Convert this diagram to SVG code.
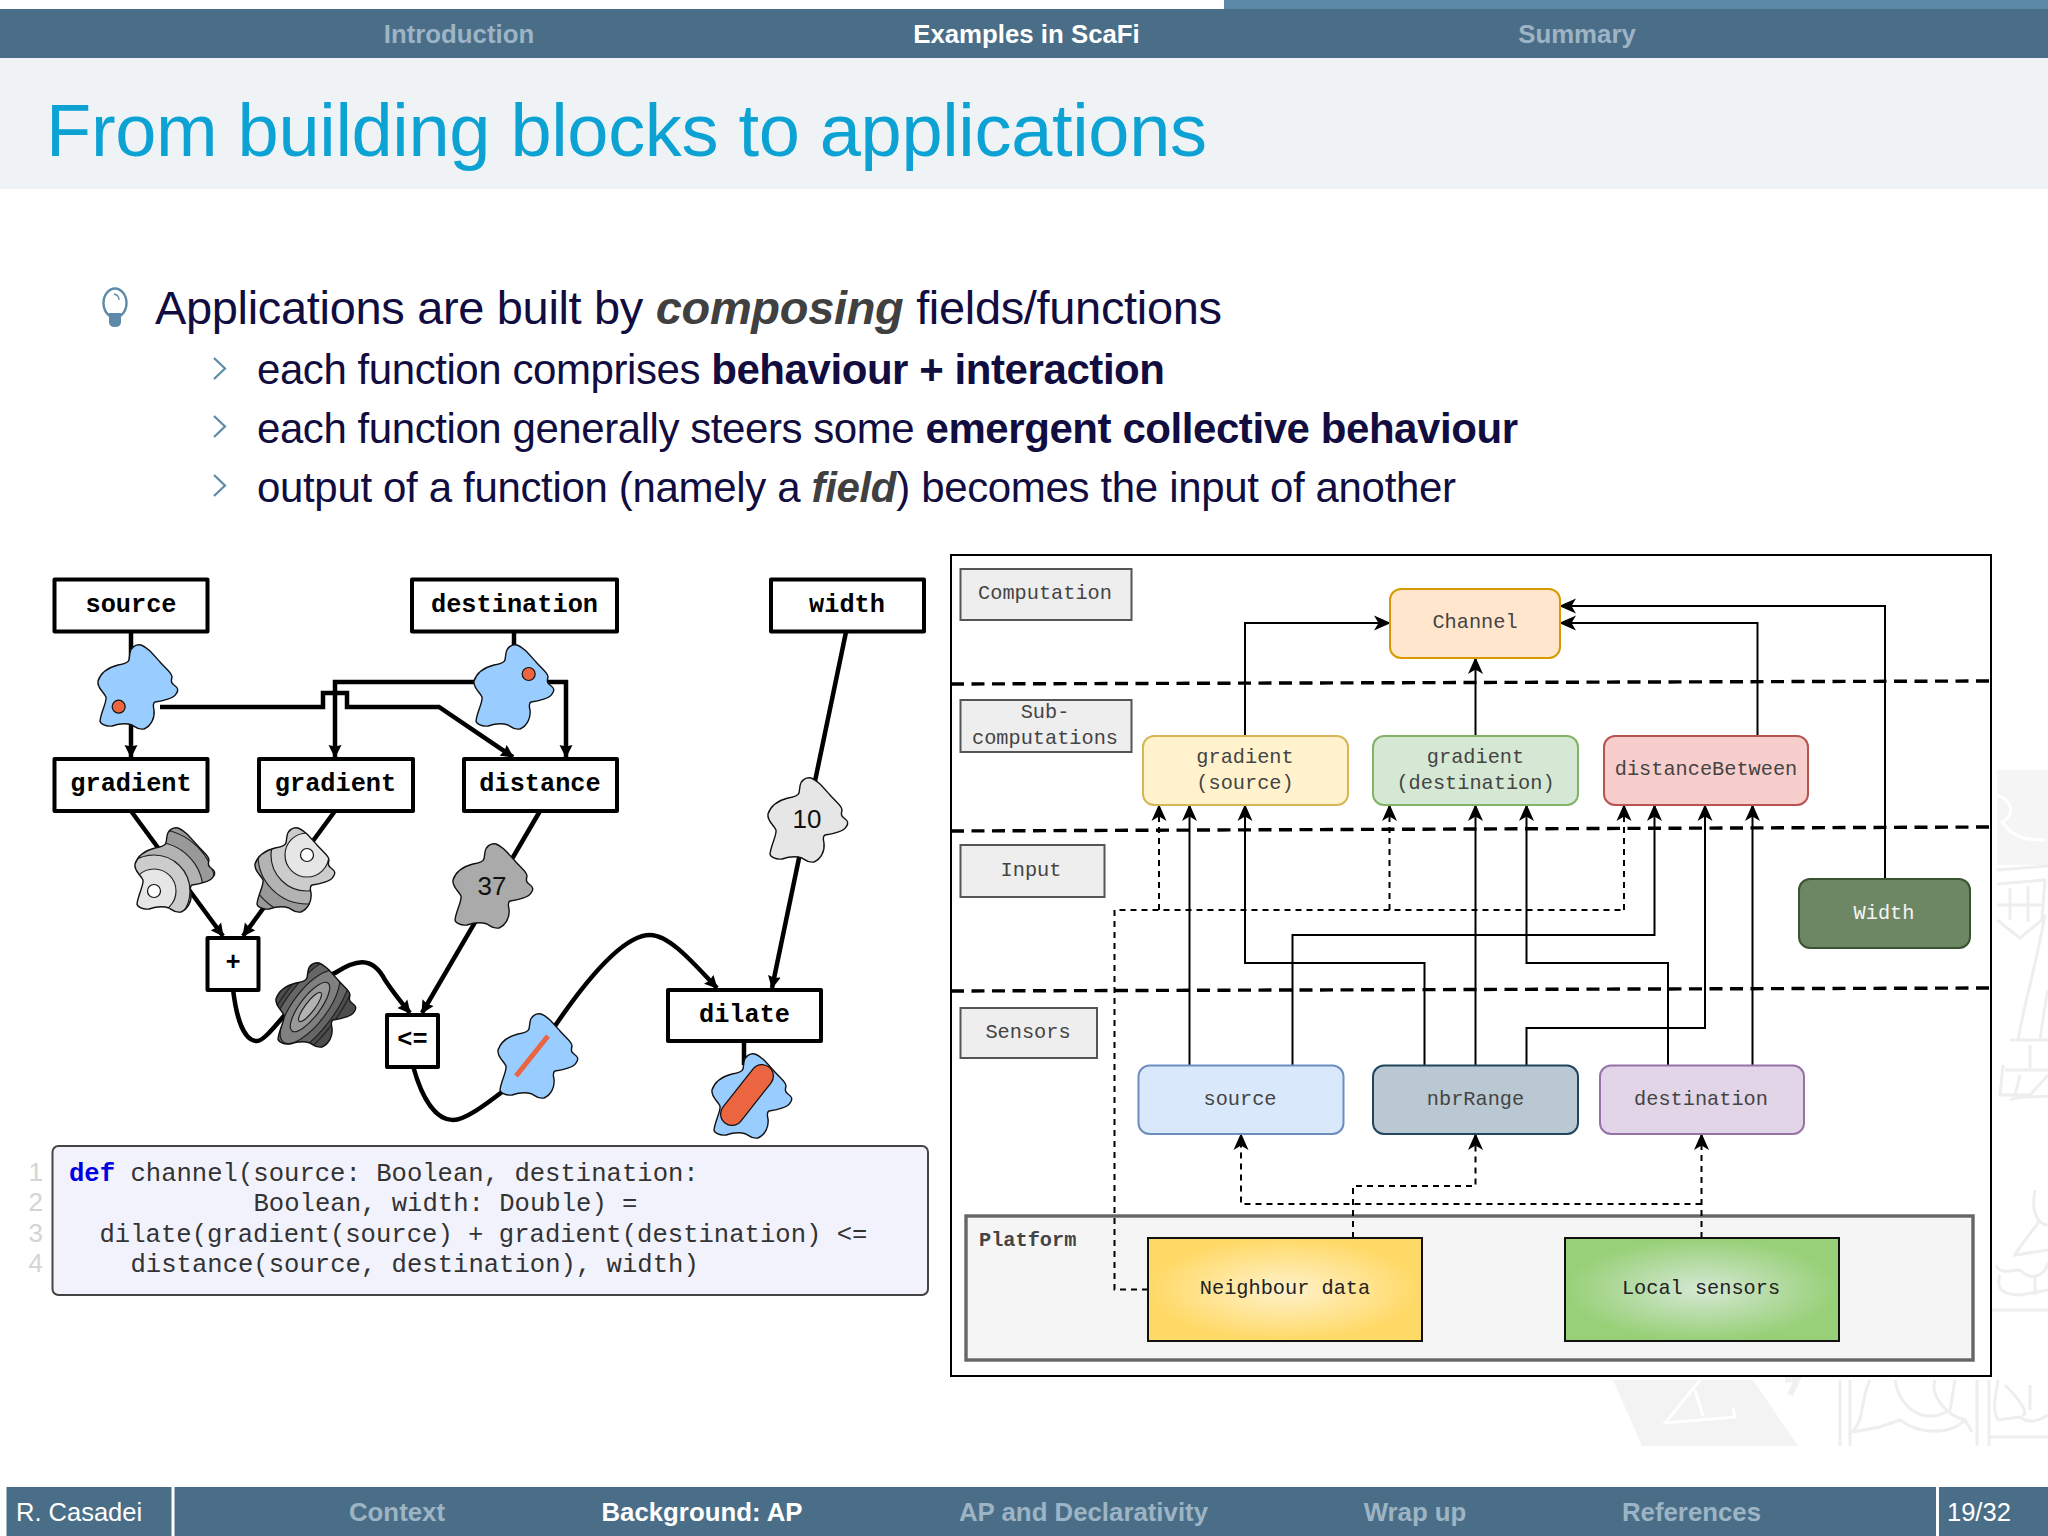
<svg xmlns="http://www.w3.org/2000/svg" xmlns:xlink="http://www.w3.org/1999/xlink" width="2048" height="1536" viewBox="0 0 2048 1536">
<style>
.sans{font-family:"Liberation Sans",Arial,sans-serif}
.nav{font-family:"Liberation Sans",Arial,sans-serif;font-size:25.8px;font-weight:700;fill:#9db4c5;text-anchor:middle}
.nav.on{fill:#ffffff}
.foot{font-family:"Liberation Sans",Arial,sans-serif;font-size:25.5px;fill:#ffffff}
.body1{font-family:"Liberation Sans",Arial,sans-serif;font-size:47px;fill:#110d40}
.body2{font-family:"Liberation Sans",Arial,sans-serif;font-size:42px;fill:#110d40}
.it{font-style:italic;font-weight:700;fill:#404040}
.b{font-weight:700}
.box{fill:#fff;stroke:#000;stroke-width:4;stroke-linejoin:round}
.bt{font-family:"Liberation Mono",monospace;font-weight:700;font-size:25.3px;fill:#000;text-anchor:middle}
.blob{stroke:#111;stroke-width:1.4}
.wire{fill:none;stroke:#000;stroke-width:4.5;stroke-linejoin:miter}
.wa{marker-end:url(#tri)}
.val{font-family:"Liberation Sans",Arial,sans-serif;font-size:26px;fill:#111;text-anchor:middle}
.ring{stroke:#222;stroke-width:1.2}
.code{font-family:"Liberation Mono",monospace;font-size:25.6px;fill:#333}
.ln{font-family:"Liberation Sans",Arial,sans-serif;font-size:26px;fill:#d4d4d4;text-anchor:end}
.lab{fill:#eeeeee;stroke:#555;stroke-width:2}
.t{font-family:"Liberation Mono",monospace;font-size:20.3px;fill:#444;text-anchor:middle}
.sep{fill:none;stroke:#000;stroke-width:3.4;stroke-dasharray:13 7.5}
.s{fill:none;stroke:#000;stroke-width:2;marker-end:url(#cl)}
.d{fill:none;stroke:#000;stroke-width:2;stroke-dasharray:6 5}
.da{marker-end:url(#cl)}
.wm{fill:none;stroke:#eeeeee;stroke-width:3}
</style>
<defs>
<path id="blob" d="M33 9C34 3 39 0 44 1C50 3 55 9 63 18C70 26 75 29 75 33C74 37 74 39 77 41C81 44 82 46 79 50C77 54 66 57 58 58C56 59 56 62 57 66C58 74 54 82 47 85C41 86 38 83 35 81C29 79 24 79 15 82C8 83 3 79 3 77C4 68 10 58 9 53C6 47 0 44 1 37C4 28 13 23 21 21C28 20 31 19 32 16Z"/>
<clipPath id="bc"><use href="#blob"/></clipPath>
<marker id="tri" markerUnits="userSpaceOnUse" markerWidth="14" markerHeight="14" refX="12" refY="7" orient="auto"><path d="M13 7L0 0.5L1.5 7L0 13.5Z" fill="#000"/></marker>
<marker id="cl" markerUnits="userSpaceOnUse" markerWidth="19" markerHeight="18" refX="16" refY="8.5" orient="auto"><path d="M17 8.5L0 1L4.5 8.5L0 16Z" fill="#000"/></marker>
<radialGradient id="gy"><stop offset="0" stop-color="#fff2cc"/><stop offset="1" stop-color="#ffd966"/></radialGradient>
<radialGradient id="gg"><stop offset="0" stop-color="#d5e8d4"/><stop offset="1" stop-color="#97d077"/></radialGradient>
</defs>
<rect width="2048" height="1536" fill="#fff"/>

<g id="watermark">
<path d="M1613 1380L1642 1446L1798 1446L1753 1380Z" fill="#f3f3f3"/>
<path d="M1700 1380L1665 1423L1735 1417L1733 1408M1695 1390L1703 1416" fill="none" stroke="#fff" stroke-width="3"/>
<path d="M1785 1380L1798 1378L1790 1395" fill="none" stroke="#f0f0f0" stroke-width="6"/>
<path class="wm" d="M1840 1380V1446M1850 1380V1446M1977 1380V1446M1989 1380V1446M1990 1437H2048"/>
<path class="wm" d="M1870 1380C1860 1400 1865 1420 1852 1432L1880 1427L1900 1420C1920 1435 1950 1435 1965 1420L1972 1432M1895 1380C1900 1410 1925 1425 1950 1410L1955 1380M1935 1380C1930 1395 1945 1415 1965 1420"/>
<path class="wm" d="M1998 1380C1995 1400 1992 1410 1998 1420L2020 1417C2030 1425 2040 1420 2048 1415M2005 1385C2020 1400 2030 1415 2022 1415M2030 1385V1410"/>
<rect x="1997" y="770" width="51" height="95" fill="#f5f5f5"/>
<path d="M1997 795C2012 800 2016 815 2002 822C2015 840 2030 840 2045 840" fill="none" stroke="#fff" stroke-width="3"/>
<path class="wm" d="M1997 870L2048 866M1997 884L2045 880L2042 920L2020 938L1997 920M2010 888V920M2028 886V922M1997 905H2042"/>
<path class="wm" d="M2045 915C2035 970 2025 1000 2018 1040M2048 990C2044 1010 2042 1025 2040 1040M2010 1040H2048M2005 1070H2048M2003 1065L2000 1095H2030L2048 1075M2030 1045V1068M2020 1075L2015 1095M2010 1100C2020 1095 2035 1098 2048 1096"/>
<path class="wm" d="M2035 1190C2030 1215 2040 1225 2048 1225M2040 1220C2030 1235 2020 1245 2015 1255L2048 1250M1996 1265C2000 1275 2010 1270 2020 1270C2035 1285 2048 1270 2048 1262M2000 1275C1995 1290 2005 1295 2020 1295L2048 1290M2035 1275V1295M1992 1310H2048"/>
</g>

<g id="header">
<rect x="1224" y="0" width="824" height="9" fill="#5c88a8"/>
<rect x="0" y="9" width="2048" height="49" fill="#4a6e88"/>
<rect x="0" y="58" width="2048" height="131" fill="#eff3f6"/>
<text class="nav" x="459" y="43">Introduction</text>
<text class="nav on" x="1026.5" y="43">Examples in ScaFi</text>
<text class="nav" x="1577" y="43">Summary</text>
<text class="sans" x="46" y="156" font-size="74" fill="#0ca2d4" textLength="1161" lengthAdjust="spacing">From building blocks to applications</text>
</g>

<g id="bullets">
<g id="bulb"><ellipse cx="115" cy="303" rx="11.5" ry="14.5" fill="#fff" stroke="#5c8aa8" stroke-width="2.4"/><path d="M109 313H121V322Q121 327 115 327Q109 327 109 322Z" fill="#5c8aa8"/><path d="M114 294Q119 295 119 300" fill="none" stroke="#5c8aa8" stroke-width="1.3"/></g>
<text class="body1" x="155" y="324" textLength="1067" lengthAdjust="spacing">Applications are built by <tspan class="it">composing</tspan> fields/functions</text>
<path d="M214 358L225 368.5L214 379M214 416L225 426.5L214 437M214 475L225 485.5L214 496" fill="none" stroke="#5c8aa8" stroke-width="2.2"/>
<text class="body2" x="257" y="384" textLength="908" lengthAdjust="spacing">each function comprises <tspan class="b">behaviour + interaction</tspan></text>
<text class="body2" x="257" y="443" textLength="1261" lengthAdjust="spacing">each function generally steers some <tspan class="b">emergent collective behaviour</tspan></text>
<text class="body2" x="257" y="502" textLength="1199" lengthAdjust="spacing">output of a function (namely a <tspan class="it">field</tspan>) becomes the input of another</text>
</g>

<g id="flow-connectors">
<path class="wire wa" d="M131 632V757"/>
<path class="wire" d="M514 632V660"/>
<path class="wire wa" d="M500 682H335V757"/>
<path class="wire wa" d="M540 682H566V757"/>
<path class="wire wa" d="M160 707H323V693H347V707H439L513 757"/>
<path class="wire wa" d="M131 811L223 936"/>
<path class="wire wa" d="M335 811L243 936"/>
<path class="wire wa" d="M540 811L422 1013"/>
<path class="wire wa" d="M233 989C236 1015 243 1041 257 1041C270 1041 300 985 335 973C355 960 372 955 385 980Q395 995 410 1013"/>
<path class="wire wa" d="M413 1066C421 1095 434 1120 453 1120C465 1120 485 1105 502 1092C520 1075 535 1055 557 1023C590 975 625 935 650 935C670 935 695 965 717 988"/>
<path class="wire wa" d="M846 632L772 988"/>
<path class="wire" d="M744 1040V1065"/>
</g>

<g id="n-source"><rect class="box" x="54.5" y="579.5" width="153" height="52"/><text class="bt" x="131" y="612">source</text></g>
<g id="n-destination"><rect class="box" x="412" y="579.5" width="205" height="52"/><text class="bt" x="514.5" y="612">destination</text></g>
<g id="n-width"><rect class="box" x="771" y="579.5" width="153" height="52"/><text class="bt" x="847" y="612">width</text></g>
<g id="n-gradient1"><rect class="box" x="54.5" y="759" width="153" height="52"/><text class="bt" x="131" y="791">gradient</text></g>
<g id="n-gradient2"><rect class="box" x="259" y="759" width="154" height="52"/><text class="bt" x="335.5" y="791">gradient</text></g>
<g id="n-distance"><rect class="box" x="464" y="759" width="153" height="52"/><text class="bt" x="540" y="791">distance</text></g>
<g id="n-plus"><rect class="box" x="207.5" y="938" width="51" height="52"/><text class="bt" x="233" y="970">+</text></g>
<g id="n-leq"><rect class="box" x="387" y="1015" width="51" height="52"/><text class="bt" x="412.5" y="1047">&lt;=</text></g>
<g id="n-dilate"><rect class="box" x="668" y="990" width="153" height="51"/><text class="bt" x="744.5" y="1021.5">dilate</text></g>

<g id="f-source" transform="translate(97 644)"><use href="#blob" class="blob" fill="#99ccff"/><circle cx="21.7" cy="62.7" r="6.5" fill="#ea6540" stroke="#111" stroke-width="1.2"/></g>
<g id="f-destination" transform="translate(473 644)"><use href="#blob" class="blob" fill="#99ccff"/><circle cx="55.7" cy="30" r="6.5" fill="#ea6540" stroke="#111" stroke-width="1.2"/></g>
<g id="f-grad1" transform="translate(134 827)"><g clip-path="url(#bc)"><rect x="-5" y="-5" width="95" height="100" fill="#999"/><circle class="ring" cx="20" cy="64" r="62" fill="#999"/><circle class="ring" cx="20" cy="64" r="49" fill="#b3b3b3"/><circle class="ring" cx="20" cy="64" r="36" fill="#ccc"/><circle class="ring" cx="20" cy="64" r="22" fill="#e6e6e6"/></g><use href="#blob" class="blob" fill="none"/><circle cx="20" cy="64" r="6.5" fill="#fff" stroke="#111" stroke-width="1.2"/></g>
<g id="f-grad2" transform="translate(254 827)"><g clip-path="url(#bc)"><rect x="-5" y="-5" width="95" height="100" fill="#999"/><circle class="ring" cx="53" cy="28" r="62" fill="#999"/><circle class="ring" cx="53" cy="28" r="49" fill="#b3b3b3"/><circle class="ring" cx="53" cy="28" r="36" fill="#ccc"/><circle class="ring" cx="53" cy="28" r="22" fill="#e6e6e6"/></g><use href="#blob" class="blob" fill="none"/><circle cx="53" cy="28" r="6.5" fill="#fff" stroke="#111" stroke-width="1.2"/></g>
<g id="f-37" transform="translate(452 843)"><use href="#blob" class="blob" fill="#aaaaaa"/><text class="val" x="40" y="52">37</text></g>
<g id="f-10" transform="translate(767 777)"><use href="#blob" class="blob" fill="#e6e6e6"/><text class="val" x="40" y="51">10</text></g>
<g id="f-sum" transform="translate(275 962)"><g clip-path="url(#bc)"><rect x="-5" y="-5" width="95" height="100" fill="#4d4d4d"/><g transform="translate(35 45) rotate(-53)"><ellipse class="ring" rx="70" ry="28" fill="#4d4d4d"/><ellipse class="ring" rx="62" ry="24" fill="#666"/><ellipse class="ring" rx="44" ry="17" fill="#808080"/><ellipse class="ring" rx="30" ry="10" fill="#999"/><ellipse class="ring" rx="18" ry="4.8" fill="#b3b3b3"/></g></g><use href="#blob" class="blob" fill="none"/></g>
<g id="f-leq" transform="translate(497 1013)"><use href="#blob" class="blob" fill="#99ccff"/><path d="M51 23L19 63" stroke="#ea6540" stroke-width="5"/></g>
<g id="f-dilate" transform="translate(711 1053)"><use href="#blob" class="blob" fill="#99ccff"/><path d="M51 23L21 61" stroke="#111" stroke-width="24" stroke-linecap="round"/><path d="M51 23L21 61" stroke="#ea6540" stroke-width="21.5" stroke-linecap="round"/></g>

<g id="code">
<rect x="52.5" y="1146" width="875.5" height="149" rx="6" fill="#f2f2fd" stroke="#444" stroke-width="2"/>
<text class="ln" x="43" y="1181">1</text><text class="ln" x="43" y="1211">2</text><text class="ln" x="43" y="1242">3</text><text class="ln" x="43" y="1272">4</text>
<text class="code" x="69" y="1181"><tspan font-weight="700" fill="#0000e0">def</tspan> channel(source: Boolean, destination:</text>
<text class="code" x="253.5" y="1211">Boolean, width: Double) =</text>
<text class="code" x="99.5" y="1242">dilate(gradient(source) + gradient(destination) &lt;=</text>
<text class="code" x="130.5" y="1272">distance(source, destination), width)</text>
</g>

<rect id="frame" x="951" y="555" width="1040" height="821" fill="#fff" stroke="#000" stroke-width="2"/>
<g id="layer-labels">
<g id="l-comp"><rect class="lab" x="960.5" y="569" width="171" height="51"/><text class="t" x="1045" y="599">Computation</text></g>
<g id="l-sub"><rect class="lab" x="960.5" y="700" width="171" height="52"/><text class="t" x="1045" y="718">Sub-</text><text class="t" x="1045" y="744">computations</text></g>
<g id="l-input"><rect class="lab" x="960.5" y="845" width="144" height="52"/><text class="t" x="1031" y="876">Input</text></g>
<g id="l-sensors"><rect class="lab" x="960.5" y="1008" width="136.5" height="50"/><text class="t" x="1028" y="1038">Sensors</text></g>
</g>
<g id="n-platform"><rect x="966" y="1216" width="1007" height="144" fill="#f5f5f5" stroke="#666" stroke-width="3.4"/><text class="t" x="979" y="1246" style="text-anchor:start;font-weight:700">Platform</text></g>

<g id="connectors">
<path class="sep" d="M951 684L1990 681"/>
<path class="sep" d="M951 831L1990 827"/>
<path class="sep" d="M951 991L1990 988"/>
<path class="s" d="M1245 736V623H1390"/>
<path class="s" d="M1475.5 736V658"/>
<path class="s" d="M1757.5 736V623H1560"/>
<path class="s" d="M1885 879V606H1560"/>
<path class="s" d="M1189.5 1065V805"/>
<path class="s" d="M1292.5 1065V935H1654.5V805"/>
<path class="s" d="M1424.5 1065V963H1245V805"/>
<path class="s" d="M1475.5 1065V805"/>
<path class="s" d="M1526.5 1065V1028H1705V805"/>
<path class="s" d="M1668 1065V963H1526.5V805"/>
<path class="s" d="M1752.5 1065V805"/>
<path class="d" d="M1148 1289.5H1114.5V910H1624"/>
<path class="d da" d="M1159 910V805"/>
<path class="d da" d="M1389.5 910V805"/>
<path class="d da" d="M1624 910V805"/>
<path class="d da" d="M1701.5 1238V1134"/>
<path class="d da" d="M1701.5 1204H1241V1134"/>
<path class="d da" d="M1353 1238V1186H1475.5V1134"/>
</g>

<g id="n-channel"><rect x="1390" y="589" width="170" height="69" rx="11" fill="#ffe6cc" stroke="#d79b00" stroke-width="2"/><text class="t" x="1475" y="628">Channel</text></g>
<g id="n-gs"><rect x="1143" y="736" width="205" height="69" rx="11" fill="#fff2cc" stroke="#d6b656" stroke-width="2"/><text class="t" x="1245" y="763">gradient</text><text class="t" x="1245" y="789">(source)</text></g>
<g id="n-gd"><rect x="1373" y="736" width="205" height="69" rx="11" fill="#d5e8d4" stroke="#82b366" stroke-width="2"/><text class="t" x="1475.5" y="763">gradient</text><text class="t" x="1475.5" y="789">(destination)</text></g>
<g id="n-db"><rect x="1604" y="736" width="204" height="69" rx="11" fill="#f8cecc" stroke="#b85450" stroke-width="2"/><text class="t" x="1706" y="775">distanceBetween</text></g>
<g id="n-wd"><rect x="1799" y="879" width="171" height="69" rx="11" fill="#6d8764" stroke="#3a5431" stroke-width="2"/><text class="t" x="1884" y="919" style="fill:#f4f4f4">Width</text></g>
<g id="n-s"><rect x="1138.5" y="1065.5" width="205" height="68.5" rx="11" fill="#dae8fc" stroke="#6c8ebf" stroke-width="2"/><text class="t" x="1240" y="1105">source</text></g>
<g id="n-nr"><rect x="1373" y="1065.5" width="205" height="68.5" rx="11" fill="#bac8d3" stroke="#23445d" stroke-width="2"/><text class="t" x="1475.5" y="1105">nbrRange</text></g>
<g id="n-d"><rect x="1600" y="1065.5" width="204" height="68.5" rx="11" fill="#e1d5e7" stroke="#9673a6" stroke-width="2"/><text class="t" x="1701" y="1105">destination</text></g>
<g id="n-nb"><rect x="1148" y="1238" width="274" height="103" fill="url(#gy)" stroke="#111" stroke-width="2"/><text class="t" x="1285" y="1294" style="fill:#222">Neighbour data</text></g>
<g id="n-ls"><rect x="1565" y="1238" width="274" height="103" fill="url(#gg)" stroke="#111" stroke-width="2"/><text class="t" x="1701" y="1294" style="fill:#222">Local sensors</text></g>

<g id="footer">
<rect x="6.5" y="1487" width="2041.5" height="49" fill="#4a6e88"/>
<rect x="171.5" y="1487" width="3" height="49" fill="#fff"/>
<rect x="1936" y="1487" width="3" height="49" fill="#fff"/>
<text class="foot" x="16" y="1521">R. Casadei</text>
<text class="nav" x="397" y="1521">Context</text>
<text class="nav on" x="702" y="1521">Background: AP</text>
<text class="nav" x="1083.5" y="1521">AP and Declarativity</text>
<text class="nav" x="1415" y="1521">Wrap up</text>
<text class="nav" x="1691.5" y="1521">References</text>
<text class="foot" x="1947" y="1521">19/32</text>
</g>
</svg>
